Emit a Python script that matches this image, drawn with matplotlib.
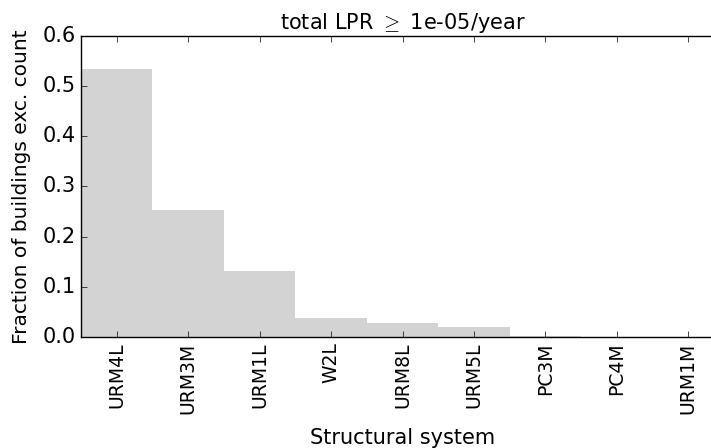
import matplotlib
matplotlib.use("Agg")
import matplotlib.pyplot as plt

plt.style.use("classic")

categories = ["URM4L", "URM3M", "URM1L", "W2L", "URM8L", "URM5L", "PC3M", "PC4M", "URM1M"]
fractions = [0.534, 0.253, 0.132, 0.038, 0.028, 0.019, 0.002, 0.0007, 0.0003]

fig = plt.figure(figsize=(7.11, 4.48), dpi=100, facecolor="white")
ax = fig.add_axes([81/711, (448-337)/448, (724-81)/711, (337-36)/448])
ax.bar(range(len(categories)), fractions, width=1.0, align="center",
       color="lightgray", linewidth=0)
ax.set_xlim(-0.5, len(categories) - 0.5)
ax.set_ylim(0, 0.6)
ax.set_xticks(range(len(categories)))
ax.set_xticklabels(categories, rotation=90)
ax.set_yticks([0.0, 0.1, 0.2, 0.3, 0.4, 0.5, 0.6])
ax.tick_params(axis="y", labelsize=15)
ax.tick_params(axis="x", labelsize=13.5)
ax.set_xlabel("Structural system", fontsize=15, labelpad=10)
ax.set_ylabel("Fraction of buildings exc. count", fontsize=14.5, labelpad=8)
ax.set_title(r"total LPR $\geq$ 1e-05/year", fontsize=15)
fig.savefig("out.png", dpi=100, facecolor="white")
